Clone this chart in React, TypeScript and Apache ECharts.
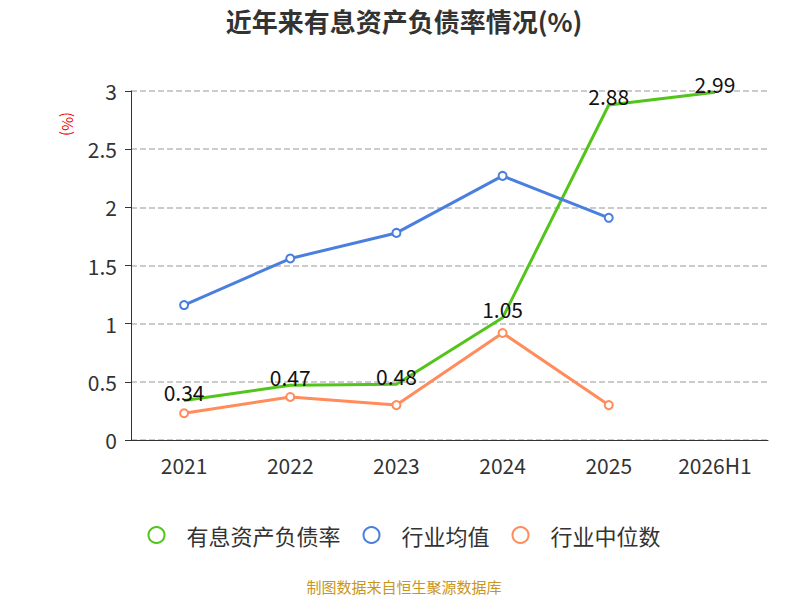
import React, { useEffect, useRef } from "react";
import * as echarts from "echarts";

const categories = ["2021", "2022", "2023", "2024", "2025", "2026H1"];
const debtRatio = [0.34, 0.47, 0.48, 1.05, 2.88, 2.99];
const industryAvg = [1.16, 1.56, 1.78, 2.27, 1.91, null];
const industryMedian = [0.23, 0.37, 0.3, 0.92, 0.3, null];

export default function App() {
  const ref = useRef<HTMLDivElement>(null);
  useEffect(() => {
    const chart = echarts.init(ref.current!, null, { renderer: "svg" });
    const font = "'Noto Sans CJK SC', 'Noto Sans', sans-serif";
    chart.setOption({
      animation: false,
      textStyle: { fontFamily: font },
      title: {
        text: "近年来有息资产负债率情况(%)",
        left: "center",
        top: -6,
        textStyle: { fontSize: 26, fontWeight: "bold", color: "#333", fontFamily: font },
      },
      graphic: [
        {
          type: "text",
          left: "center",
          top: 571,
          style: { text: "制图数据来自恒生聚源数据库", fill: "#c8961e", fontSize: 15, fontFamily: font },
        },
        {
          type: "text",
          x: 68,
          y: 104,
          rotation: -Math.PI / 2,
          style: { text: "(%)", fill: "#e00", fontSize: 15, fontFamily: font },
        },
      ],
      legend: {
        bottom: 49,
        left: "center",
        itemWidth: 50,
        itemHeight: 16,
        itemGap: 22,
        textStyle: { fontSize: 22, color: "#333" },
        data: [
          { name: "有息资产负债率", icon: "emptyCircle" },
          { name: "行业均值", icon: "emptyCircle" },
          { name: "行业中位数", icon: "emptyCircle" },
        ],
      },
      grid: { left: 123, right: 32, top: 83, bottom: 160 },
      xAxis: {
        type: "category",
        data: categories,
        axisLine: { lineStyle: { color: "#333" } },
        axisTick: { lineStyle: { color: "#333" }, length: 6 },
        axisLabel: { fontSize: 21, color: "#333", margin: 14 },
      },
      yAxis: {
        type: "value",
        min: 0,
        max: 3,
        interval: 0.5,
        axisLine: { show: true, lineStyle: { color: "#333" } },
        axisTick: { show: true, length: 6, lineStyle: { color: "#333" } },
        axisLabel: { fontSize: 21, color: "#333", margin: 14 },
        splitLine: { lineStyle: { type: "dashed", color: "#bbb", width: 1.5 } },
      },
      series: [
        {
          name: "有息资产负债率",
          type: "line",
          data: debtRatio,
          symbol: "circle",
          symbolSize: 0.1,
          itemStyle: { color: "#52c41a" },
          lineStyle: { width: 3, color: "#52c41a" },
          label: { show: true, position: "top", fontSize: 21, color: "#111", distance: -2 },
          labelLayout: { hideOverlap: false },
        },
        {
          name: "行业均值",
          type: "line",
          data: industryAvg,
          symbol: "emptyCircle",
          symbolSize: 8,
          itemStyle: { color: "#4a7fe0" },
          lineStyle: { width: 3, color: "#4a7fe0" },
        },
        {
          name: "行业中位数",
          type: "line",
          data: industryMedian,
          symbol: "emptyCircle",
          symbolSize: 8,
          itemStyle: { color: "#ff8c5a" },
          lineStyle: { width: 3, color: "#ff8c5a" },
        },
      ],
    });
    return () => chart.dispose();
  }, []);
  return <div ref={ref} style={{ width: 792, height: 592 }} />;
}
